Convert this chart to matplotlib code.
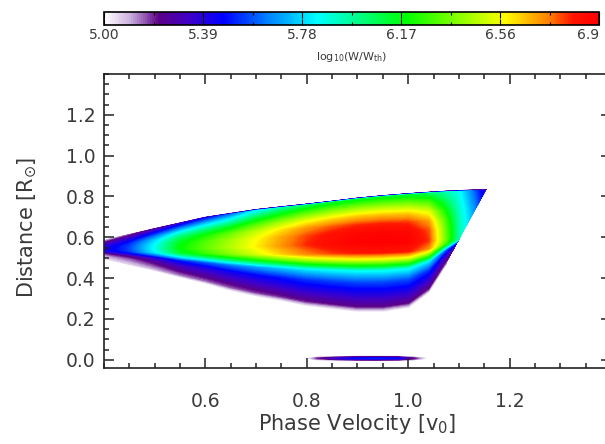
import numpy as np
import matplotlib
matplotlib.use("Agg")
import matplotlib.pyplot as plt
from matplotlib.colors import LinearSegmentedColormap, Normalize
from matplotlib.cm import ScalarMappable
from matplotlib.patches import Polygon
from matplotlib.ticker import FixedLocator, MultipleLocator

# wedge
col_x     = [0.40, 0.45, 0.50, 0.55, 0.60, 0.65, 0.70, 0.75, 0.80, 0.85, 0.90, 0.95, 1.00, 1.04, 1.07, 1.10, 1.13, 1.16]
ridge_y   = [0.540, 0.543, 0.545, 0.547, 0.549, 0.552, 0.556, 0.560, 0.565, 0.570, 0.575, 0.578, 0.580, 0.585, 0.590, 0.600, 0.620, 0.640]
ridge_val = [5.40, 5.56, 5.85, 6.18, 6.33, 6.46, 6.59, 6.72, 6.83, 6.90, 6.94, 6.95, 6.94, 6.82, 6.40, 5.95, 5.70, 5.35]
top_y     = [0.585, 0.612, 0.640, 0.667, 0.694, 0.712, 0.730, 0.743, 0.756, 0.770, 0.785, 0.797, 0.807, 0.814, 0.819, 0.823, 0.827, 0.831]
top_val   = [5.05, 5.15, 5.25, 5.35, 5.45, 5.60, 5.80, 5.95, 6.05, 6.10, 6.12, 6.12, 6.10, 6.05, 5.95, 5.85, 5.60, 5.30]
low_y     = [0.495, 0.465, 0.437, 0.405, 0.375, 0.340, 0.312, 0.290, 0.265, 0.250, 0.236, 0.236, 0.255, 0.330, 0.450, 0.550, 0.580, 0.600]

# shape of the profile below / above the ridge (fraction of distance, fraction of level)
low_u = [1.10, 1.00, 0.92, 0.75, 0.57, 0.40, 0.33, 0.25, 0.15, 0.0]
low_f = [-0.3, 0.0, 0.11, 0.20, 0.29, 0.44, 0.61, 0.78, 0.95, 1.0]
up_v = [0.2, 0.4, 0.6, 0.8, 0.93, 1.0]
up_g = [0.03, 0.14, 0.36, 0.66, 0.87, 1.0]

# sharp right-hand cut of the wedge
cut_x = [1.075, 1.075, 1.153, 1.20]
cut_y = [-0.10, 0.475, 0.830, 1.04]

# thin feature near zero distance
strip_x   = [0.79, 0.82, 0.86, 0.90, 0.94, 0.98, 1.01, 1.05]
strip_val = [4.90, 5.18, 5.36, 5.48, 5.50, 5.46, 5.22, 4.90]
strip_y = 0.007

cbar_ticks = [5.00, 5.39, 5.78, 6.17, 6.56, 6.95]
cbar_labels = ['5.00', '5.39', '5.78', '6.17', '6.56', '6.9']
vmin, vmax = 5.0, 6.95

cmap = LinearSegmentedColormap.from_list('rainbow_white', [
    (0.00, (1.0, 1.0, 1.0)),
    (0.05, (0.80, 0.70, 0.87)),
    (0.11, (0.36, 0.0, 0.53)),
    (0.17, (0.25, 0.0, 0.78)),
    (0.24, (0.0, 0.0, 1.0)),
    (0.33, (0.0, 0.5, 1.0)),
    (0.43, (0.0, 1.0, 1.0)),
    (0.52, (0.0, 1.0, 0.5)),
    (0.61, (0.0, 1.0, 0.0)),
    (0.71, (0.5, 1.0, 0.0)),
    (0.81, (1.0, 1.0, 0.0)),
    (0.90, (1.0, 0.5, 0.0)),
    (0.95, (1.0, 0.08, 0.0)),
    (1.00, (1.0, 0.0, 0.0))])
norm = Normalize(vmin, vmax)

plt.rcParams['font.family'] = ['DejaVu Sans']
tcol = '#3a3a3a'

fig = plt.figure(figsize=(6.05, 4.44), dpi=100)
ax = fig.add_axes([0.1719, 0.1712, 0.838, 0.6622])

# build curvilinear mesh, one column per read position
cx = np.array(col_x)
ry, rv = np.array(ridge_y), np.array(ridge_val)
ty, tv = np.array(top_y), np.array(top_val)
ly = np.array(low_y)
Y, Z = [], []
for u, f in zip(low_u, low_f):
    Y.append(ry - u * (ry - ly))
    Z.append(5.0 + f * (rv - 5.0))
for v, g in zip(up_v, up_g):
    Y.append(ry + v * (ty - ry))
    Z.append(rv - g * (rv - tv))
Y.append(ty + 0.012)
Z.append(np.full_like(cx, 4.4))
Y, Z = np.array(Y), np.array(Z)
X = np.tile(cx, (Y.shape[0], 1))

levels = np.linspace(vmin, vmax, 300)
cs = ax.contourf(X, Y, Z, levels=levels, cmap=cmap, norm=norm)
cs.set_edgecolor('face')
cs.set_linewidth(0.3)
clip = Polygon([(0.3, -0.1)] + list(zip(cut_x, cut_y)) + [(0.3, 1.04)],
               transform=ax.transData)
cs.set_clip_path(clip)

sx = np.array(strip_x)
SX = np.tile(sx, (3, 1))
SY = np.array([np.full_like(sx, strip_y - 0.016), np.full_like(sx, strip_y),
               np.full_like(sx, strip_y + 0.016)])
SZ = np.array([np.full_like(sx, 4.8), np.array(strip_val), np.full_like(sx, 4.8)])
cs2 = ax.contourf(SX, SY, SZ, levels=levels, cmap=cmap, norm=norm)
cs2.set_edgecolor('face')
cs2.set_linewidth(0.3)

ax.set_xlim(0.4, 1.4)
ax.set_ylim(-0.04, 1.40)
ax.xaxis.set_major_locator(FixedLocator([0.6, 0.8, 1.0, 1.2]))
ax.xaxis.set_minor_locator(MultipleLocator(0.05))
ax.yaxis.set_major_locator(FixedLocator([0.0, 0.2, 0.4, 0.6, 0.8, 1.0, 1.2]))
ax.yaxis.set_minor_locator(MultipleLocator(0.05))
ax.tick_params(which='both', direction='in', top=True, right=True, width=1.1,
               color='#222222', labelcolor=tcol, labelsize=13.5)
ax.tick_params(which='major', length=7.2)
ax.tick_params(which='minor', length=3.6)
ax.tick_params(axis='x', which='major', pad=17)
ax.tick_params(axis='y', which='major', pad=6)
for s in ax.spines.values():
    s.set_linewidth(1.2)
    s.set_color('#222222')

ax.set_xlabel('Phase Velocity [v$_0$]', fontsize=15, color=tcol)
ax.set_ylabel(r'Distance [R$_{\odot}$]', fontsize=15, color=tcol)
ax.xaxis.set_label_coords(0.5, -0.15)
ax.yaxis.set_label_coords(-0.128, 0.48)

# colour bar
cax = fig.add_axes([0.1719, 0.9437, 0.8182, 0.0293])
cb = fig.colorbar(ScalarMappable(norm=norm, cmap=cmap), cax=cax,
                  orientation='horizontal')
cb.outline.set_linewidth(1.2)
cb.set_ticks(cbar_ticks)
cb.set_ticklabels(cbar_labels)
cax.xaxis.set_minor_locator(FixedLocator(
    [(a + b) / 2 for a, b in zip(cbar_ticks[:-1], cbar_ticks[1:])]))
cax.tick_params(which='both', direction='in', top=True, bottom=True,
                labelsize=10, labelcolor=tcol, pad=2, width=0.8)
cax.tick_params(which='major', length=4)
cax.tick_params(which='minor', length=2.5)
cax.get_xticklabels()[-1].set_horizontalalignment('right')
cb.set_label(r'log$_{10}$(W/W$_{\rm th}$)', fontsize=8, color=tcol, labelpad=6)

fig.savefig('out.png', dpi=100)
